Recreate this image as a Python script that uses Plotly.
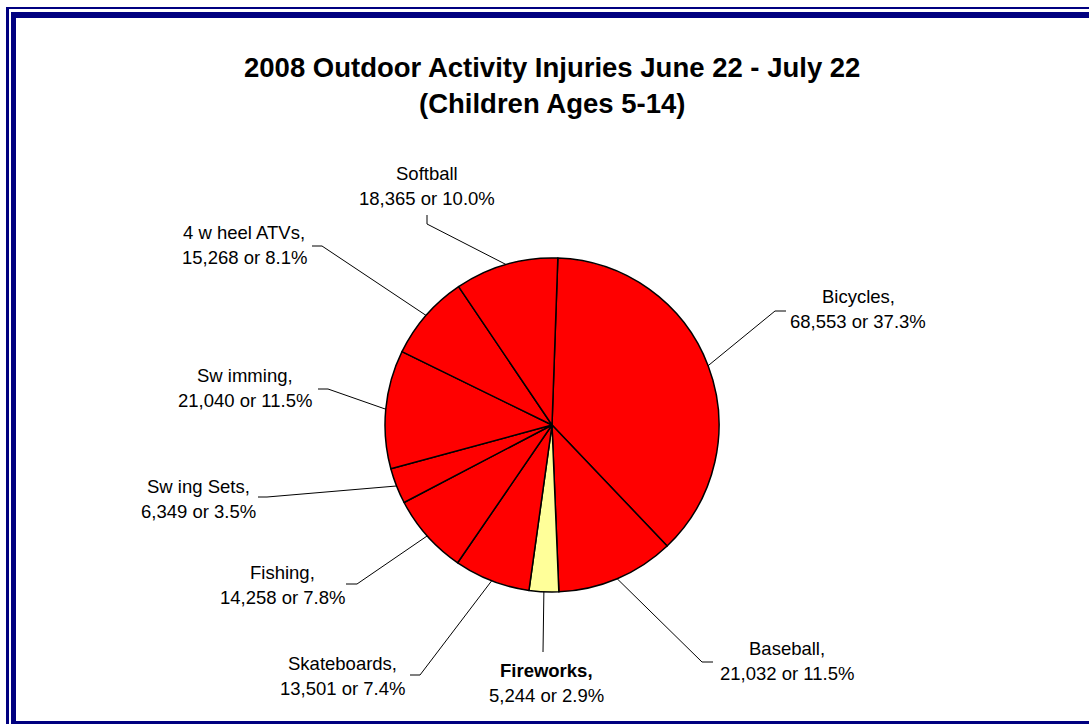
import math
import plotly.graph_objects as go

# ---- data ----
categories = ["Bicycles", "Baseball", "Fireworks", "Skateboards", "Fishing",
              "Swing Sets", "Swimming", "4 wheel ATVs", "Softball"]
label_names = ["Bicycles,", "Baseball,", "Fireworks,", "Skateboards,", "Fishing,",
               "Sw ing Sets,", "Sw imming,", "4 w heel ATVs,", "Softball"]
injuries = [68553, 21032, 5244, 13501, 14258, 6349, 21040, 15268, 18365]
percent_labels = ["37.3%", "11.5%", "2.9%", "7.4%", "7.8%", "3.5%", "11.5%", "8.1%", "10.0%"]
slice_colors = ["#FF0000", "#FF0000", "#FFFF99", "#FF0000", "#FF0000",
                "#FF0000", "#FF0000", "#FF0000", "#FF0000"]
bold_label = [False, False, True, False, False, False, False, False, False]

# ---- layout (pixel space) ----
W, H = 1089, 724
CX, CY, R = 552, 425, 167
ROTATION = 2  # degrees, clockwise from 12 o'clock

def px(x):
    return x / W

def py(y):
    return 1 - y / H

# label text centre (x, y of first line) and leader elbow points (pixels)
label_layout = {
    "Bicycles":     dict(tx=858, ty=297, elbow=[(775, 311), (786, 311)]),
    "Baseball":     dict(tx=787, ty=648, elbow=[(702, 662), (713, 662)]),
    "Fireworks":    dict(tx=546, ty=670, elbow=[(543, 652)]),
    "Skateboards":  dict(tx=342, ty=663, elbow=[(420, 675), (410, 675)]),
    "Fishing":      dict(tx=282, ty=572, elbow=[(357, 584), (346, 584)]),
    "Swing Sets":   dict(tx=198, ty=486, elbow=[(267, 497), (258, 497)]),
    "Swimming":     dict(tx=245, ty=375, elbow=[(328, 389), (318, 389)]),
    "4 wheel ATVs": dict(tx=244, ty=232, elbow=[(322, 246), (312, 246)]),
    "Softball":     dict(tx=427, ty=173, elbow=[(427, 224), (427, 215)]),
}
LINE_GAP = 25

fig = go.Figure()
fig.add_trace(go.Pie(
    labels=categories,
    values=injuries,
    sort=False,
    direction="clockwise",
    rotation=ROTATION,
    marker=dict(colors=slice_colors, line=dict(color="#000000", width=1.5)),
    textinfo="none",
    hoverinfo="label+value+percent",
    showlegend=False,
    domain=dict(x=[px(CX - R), px(CX + R)], y=[py(CY + R), py(CY - R)]),
))

shapes = []
annotations = []
total = sum(injuries)
cum = 0.0
font_family = "Liberation Sans, Arial, sans-serif"
for cat, name, val, pct, bold in zip(categories, label_names, injuries, percent_labels, bold_label):
    mid = cum + val / 2
    cum += val
    ang = math.radians(ROTATION + 360 * mid / total)
    sx = CX + R * math.sin(ang)
    sy = CY - R * math.cos(ang)
    lay = label_layout[cat]
    pts = [(sx, sy)] + lay["elbow"]
    for (x0, y0), (x1, y1) in zip(pts[:-1], pts[1:]):
        shapes.append(dict(type="line", xref="paper", yref="paper",
                           x0=px(x0), y0=py(y0), x1=px(x1), y1=py(y1),
                           line=dict(color="#000000", width=1)))
    line1 = f"<b>{name}</b>" if bold else name
    line2 = f"{val:,} or {pct}"
    for txt, yy in [(line1, lay["ty"]), (line2, lay["ty"] + LINE_GAP)]:
        annotations.append(dict(xref="paper", yref="paper", x=px(lay["tx"]), y=py(yy),
                                text=txt, showarrow=False, xanchor="center", yanchor="middle",
                                font=dict(family=font_family, size=18.5, color="#000000")))

# title
title_lines = ["2008 Outdoor Activity Injuries June 22 - July 22", "(Children Ages 5-14)"]
for txt, yy in zip(title_lines, [68, 103]):
    annotations.append(dict(xref="paper", yref="paper", x=px(552), y=py(yy),
                            text=f"<b>{txt}</b>", showarrow=False, xanchor="center", yanchor="middle",
                            font=dict(family=font_family, size=27.5, color="#000000")))

# white cover along the right edge, then the double navy frame (cropped at right/bottom)
shapes.append(dict(type="rect", xref="paper", yref="paper",
                   x0=px(1070), y0=py(721), x1=1, y1=py(18),
                   fillcolor="#FFFFFF", line=dict(width=0), layer="above"))
navy = "#000080"
frame = [
    (6, 7, 9, H),      # outer left
    (6, 7, W, 9),      # outer top
    (11, 12, 16, H),   # inner left
    (11, 12, W, 18),   # inner top
    (11, 721, W, H),   # bottom
]
for x0, y0, x1, y1 in frame:
    shapes.append(dict(type="rect", xref="paper", yref="paper",
                       x0=px(x0), y0=py(y1), x1=px(x1), y1=py(y0),
                       fillcolor=navy, line=dict(width=0), layer="above"))

fig.update_layout(
    width=W, height=H,
    margin=dict(l=0, r=0, t=0, b=0),
    paper_bgcolor="#FFFFFF",
    plot_bgcolor="#FFFFFF",
    shapes=shapes,
    annotations=annotations,
    showlegend=False,
)

fig.write_html("out.html", config={"displayModeBar": False},
               post_script="document.body.style.margin='0';document.body.style.overflow='hidden';")
